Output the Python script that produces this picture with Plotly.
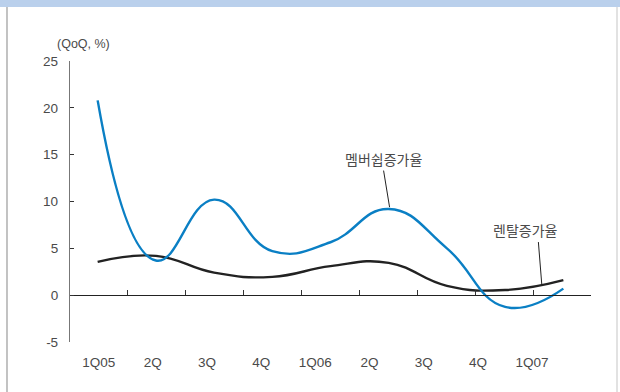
import numpy as np
import plotly.graph_objects as go

quarters = ["1Q05", "2Q", "3Q", "4Q", "1Q06", "2Q", "3Q", "4Q", "1Q07"]
membership_growth = [20.8, 3.7, 10.2, 4.7, 5.65, 9.2, 5.0, -1.25, 0.7]
rental_growth = [3.55, 4.2, 2.4, 1.95, 3.1, 3.45, 1.0, 0.55, 1.6]
y_ticks = [-5, 0, 5, 10, 15, 20, 25]
y_tick_text = ["-5", "0", "5", "10", "15", "20", "25"]

xq = list(range(len(quarters)))
x_lo, x_hi = -0.475, 8.475
boundaries = list(np.linspace(x_lo, x_hi, len(quarters) + 1))

font_fam = "Liberation Sans, Arial, sans-serif"
txt = "#4a4a4a"

fig = go.Figure()
fig.add_trace(go.Scatter(x=xq, y=rental_growth, mode="lines",
                         line=dict(color="#222222", width=2.4, shape="spline", smoothing=1.3),
                         showlegend=False, hoverinfo="skip"))
fig.add_trace(go.Scatter(x=xq, y=membership_growth, mode="lines",
                         line=dict(color="#0a7fc4", width=2.4, shape="spline", smoothing=1.3),
                         showlegend=False, hoverinfo="skip"))
fig.add_trace(go.Scatter(x=[], y=[], xaxis="x2", showlegend=False, hoverinfo="skip"))

fig.update_layout(
    width=620, height=392,
    margin=dict(l=70, r=29, t=61, b=50),
    paper_bgcolor="white", plot_bgcolor="white",
    font=dict(family=font_fam, size=13, color=txt),
    xaxis=dict(range=[x_lo, x_hi], anchor="free", position=1/6, side="bottom",
               showline=True, linecolor="#222222", linewidth=1.3,
               ticks="inside", ticklen=5, tickwidth=1, tickcolor="#333333",
               tickvals=boundaries, showticklabels=False,
               showgrid=False, zeroline=False),
    xaxis2=dict(range=[-0.529, 9.088], overlaying="x", anchor="y", side="bottom",
                tickvals=list(range(len(quarters))), ticktext=quarters,
                ticks="", showline=False, showgrid=False, zeroline=False,
                tickfont=dict(size=13.5, color=txt), ticklabelstandoff=10),
    yaxis=dict(range=[-5, 25], tickvals=y_ticks, ticktext=y_tick_text,
               showline=True, linecolor="#777777", linewidth=1.3,
               ticks="inside", ticklen=4, tickcolor="#333333",
               showgrid=False, zeroline=False,
               tickfont=dict(size=13.5, color=txt), ticklabelstandoff=8),
)

# frame decorations
fig.add_shape(type="rect", xref="paper", yref="paper",
              x0=-0.2, x1=1.2, y0=(342 - 7) / 281, y1=1.3,
              fillcolor="#bad0ec", line=dict(width=0), layer="above")
fig.add_shape(type="line", xref="paper", yref="paper",
              x0=(7 - 70) / 521, x1=(7 - 70) / 521, y0=-0.3, y1=(342 - 7) / 281,
              line=dict(color="#9a9a9a", width=1.2))
fig.add_shape(type="line", xref="paper", yref="paper",
              x0=(617 - 70) / 521, x1=(617 - 70) / 521, y0=-0.3, y1=(342 - 7) / 281,
              line=dict(color="#cfcfcf", width=1.2))

# unit label
fig.add_annotation(text="(QoQ, %)", xref="paper", yref="paper",
                   x=(55 - 70) / 521, y=(342 - 44) / 281, xanchor="left", yanchor="middle",
                   showarrow=False, font=dict(size=12.5, color=txt))

# series labels with leader lines
fig.add_annotation(text="멤버쉽증가율", x=4.906, y=14.57, showarrow=False,
                   font=dict(family="Noto Sans CJK KR", size=14, color=txt))
fig.add_shape(type="line", x0=4.912, y0=13.3, x1=5.015, y1=9.39,
              line=dict(color="#222222", width=1))
fig.add_annotation(text="렌탈증가율", x=7.343, y=6.91, showarrow=False,
                   font=dict(family="Noto Sans CJK KR", size=14, color=txt))
fig.add_shape(type="line", x0=7.571, y0=5.67, x1=7.629, y1=1.17,
              line=dict(color="#222222", width=1))

fig.write_html("out.html")
